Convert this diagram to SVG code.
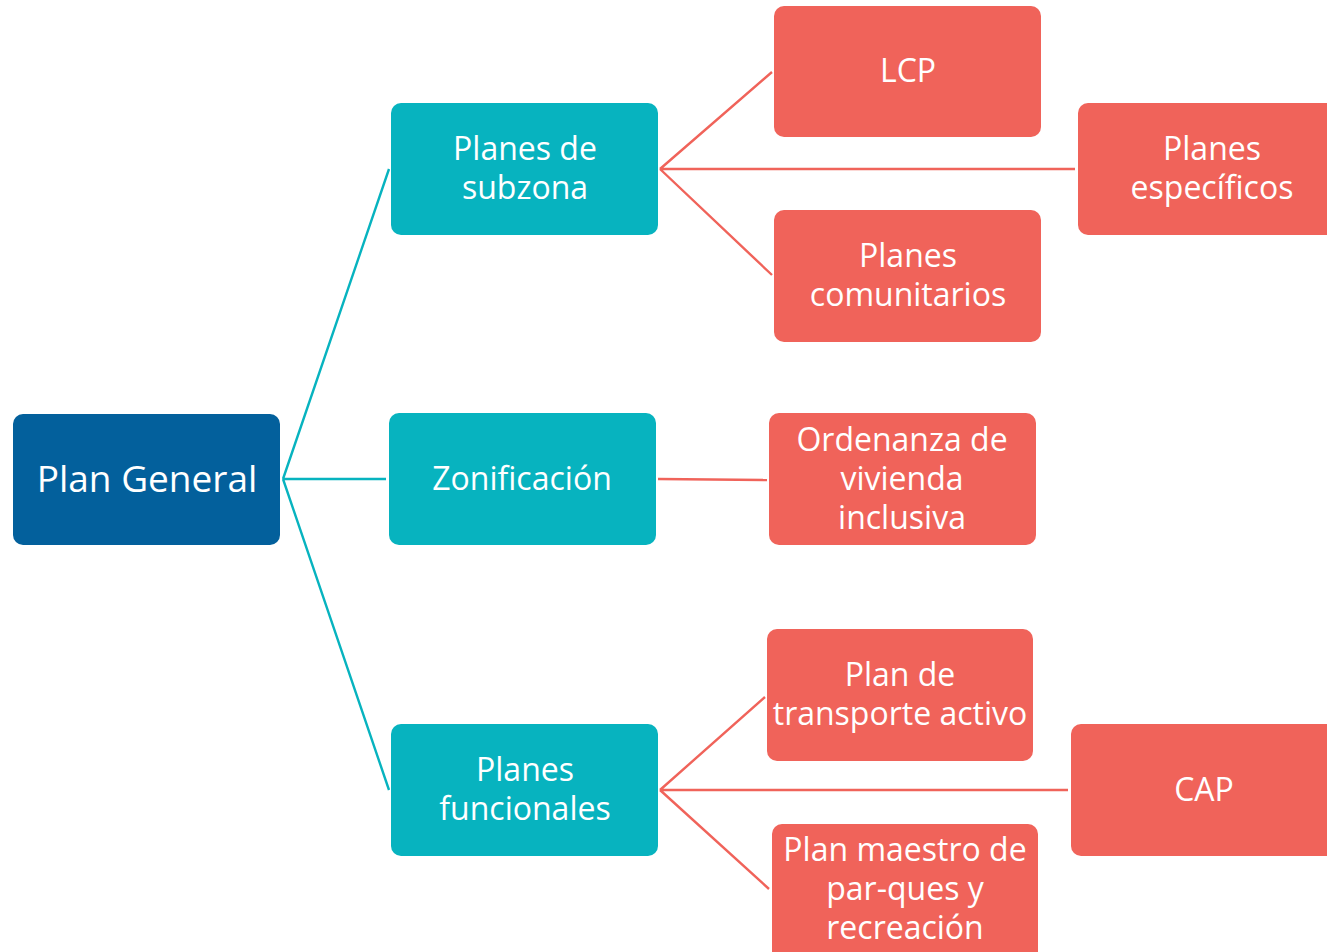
<svg xmlns="http://www.w3.org/2000/svg" width="1327" height="952" viewBox="0 0 1327 952">
<style>
.dark{fill:#03609C}
.teal{fill:#07B3BF}
.red{fill:#F0635A}
text{font-family:"Open Sans","Noto Sans","Liberation Sans",sans-serif;fill:#fff;text-anchor:middle;font-size:32px}
.big{font-size:37px}
.ct{stroke:#07B3BF;stroke-width:2.4;fill:none}
.cr{stroke:#F0635A;stroke-width:2.4;fill:none}
</style>
<rect width="1327" height="952" fill="#fff"/>
<g id="connectors">
<path class="ct" d="M283,479 L389,169 M283,479 L386,479 M283,479 L389,790"/>
<path class="cr" d="M660,169 L772,72 M660,169 L1075,169 M660,169 L772,275"/>
<path class="cr" d="M658,479 L767,480"/>
<path class="cr" d="M660,790 L765,697 M660,790 L1068,790 M660,790 L769,889"/>
</g>
<g id="plan-general"><rect class="dark" x="13" y="414" width="267" height="131" rx="10"/><text class="big" x="147" y="492">Plan General</text></g>
<g id="planes-subzona"><rect class="teal" x="391" y="103" width="267" height="132" rx="10"/><text x="525" y="160">Planes de</text><text x="525" y="199">subzona</text></g>
<g id="zonificacion"><rect class="teal" x="389" y="413" width="267" height="132" rx="10"/><text x="522" y="490">Zonificación</text></g>
<g id="planes-funcionales"><rect class="teal" x="391" y="724" width="267" height="132" rx="10"/><text x="525" y="781">Planes</text><text x="525" y="820">funcionales</text></g>
<g id="lcp"><rect class="red" x="774" y="6" width="267" height="131" rx="10"/><text x="908" y="82">LCP</text></g>
<g id="planes-especificos"><rect class="red" x="1078" y="103" width="267" height="132" rx="10"/><text x="1212" y="160">Planes</text><text x="1212" y="199">específicos</text></g>
<g id="planes-comunitarios"><rect class="red" x="774" y="210" width="267" height="132" rx="10"/><text x="908" y="267">Planes</text><text x="908" y="306">comunitarios</text></g>
<g id="ordenanza"><rect class="red" x="769" y="413" width="267" height="132" rx="10"/><text x="902" y="451">Ordenanza de</text><text x="902" y="490">vivienda</text><text x="902" y="529">inclusiva</text></g>
<g id="plan-transporte"><rect class="red" x="767" y="629" width="266" height="132" rx="10"/><text x="900" y="686">Plan de</text><text x="900" y="725">transporte activo</text></g>
<g id="cap"><rect class="red" x="1071" y="724" width="267" height="132" rx="10"/><text x="1204" y="801">CAP</text></g>
<g id="plan-maestro"><rect class="red" x="772" y="824" width="266" height="140" rx="10"/><text x="905" y="861">Plan maestro de</text><text x="905" y="900">par-ques y</text><text x="905" y="939">recreación</text></g>
</svg>
